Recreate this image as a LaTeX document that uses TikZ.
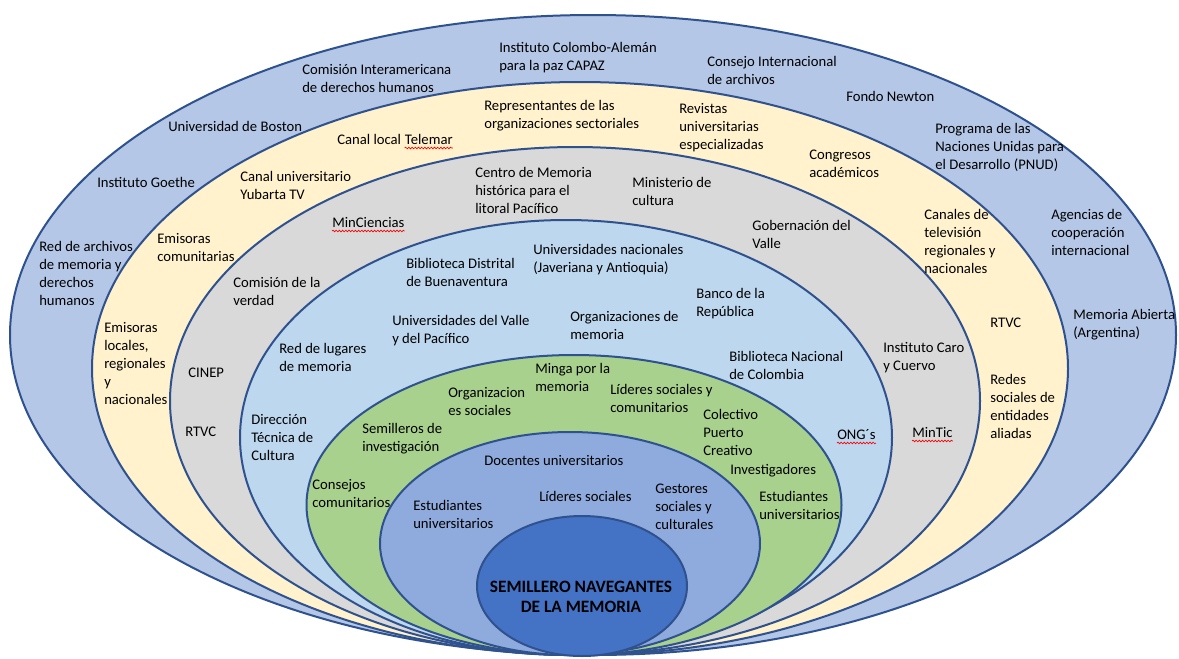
\documentclass[tikz,border=0pt]{standalone}
\usepackage{fontspec}
\setmainfont{Carlito}
\usetikzlibrary{decorations.pathmorphing}
\definecolor{outer-color}{HTML}{B4C7E7}
\definecolor{media-color}{HTML}{FFF2CC}
\definecolor{state-color}{HTML}{D9D9D9}
\definecolor{memory-color}{HTML}{BDD7EE}
\definecolor{community-color}{HTML}{A9D18E}
\definecolor{academic-color}{HTML}{8FAADC}
\definecolor{core-color}{HTML}{4472C4}
\definecolor{line-color}{HTML}{2F528F}

\begin{document}
\begin{tikzpicture}[x=0.75pt, y=-0.75pt,
ring/.style={fill=#1, draw=line-color, line width=1.5pt},
spell/.style={red, line width=0.5pt, decorate, decoration={snake, amplitude=0.6pt, segment length=2.4pt}}]

\useasboundingbox (0,0) rectangle (1179,658);

\draw[ring=outer-color]     (593,335)   ellipse [x radius=583,   y radius=320];
\draw[ring=media-color]     (580,368.5) ellipse [x radius=488,   y radius=286.5];
\draw[ring=state-color]     (575,401)   ellipse [x radius=405,   y radius=254];
\draw[ring=memory-color]    (566,437.5) ellipse [x radius=326,   y radius=217.5];
\draw[ring=community-color] (574,505)   ellipse [x radius=267.5, y radius=150];
\draw[ring=academic-color]  (570,543.5) ellipse [x radius=190,   y radius=111.5];
\draw[ring=core-color]      (582,586)   ellipse [x radius=105,   y radius=70];

% base = baseline of the last line
\begin{scope}[every node/.style={anchor=base west, inner sep=0pt, align=left, font=\fontsize{11}{13.5}\selectfont}]
% cooperacion internacional
\node(cidh)     at (302,92)  {Comisión Interamericana\\de derechos humanos};
\node(capaz)    at (499,70)  {Instituto Colombo-Alemán\\para la paz CAPAZ};
\node(cia)      at (707,84)  {Consejo Internacional\\de archivos};
\node(boston)   at (168,131) {Universidad de Boston};
\node(newton)   at (846,101) {Fondo Newton};
\node(goethe)   at (97,187)  {Instituto Goethe};
\node(pnud)     at (935,169) {Programa de las\\Naciones Unidas para\\el Desarrollo (PNUD)};
\node(redarch)  at (39,305)  {Red de archivos\\de memoria y\\derechos\\humanos};
\node(agencias) at (1051,255) {Agencias de\\cooperación\\internacional};
\node(abierta)  at (1073,337) {Memoria Abierta\\(Argentina)};

% medios
\node(canal)    at (337,144) {Canal local};
\node(telemar)  at ([xshift=2.5pt]canal.base east) {Telemar};
\node(repres)   at (484,128) {Representantes de las\\organizaciones sectoriales};
\node(revistas) at (679,149) {Revistas\\universitarias\\especializadas};
\node(congreso) at (809,177) {Congresos\\académicos};
\node(yubarta)  at (240,199) {Canal universitario\\Yubarta TV};
\node(emicom)   at (157,261) {Emisoras\\comunitarias};
\node(canales)  at (924,273) {Canales de\\televisión\\regionales y\\nacionales};
\node(emiloc)   at (104,404) {Emisoras\\locales,\\regionales\\y\\nacionales};
\node(rtvcb)    at (990,327) {RTVC};
\node(redes)    at (990,438) {Redes\\sociales de\\entidades\\aliadas};

% estado
\node(minciencias) at (332,227) {MinCiencias};
\node(centro)   at (475,213) {Centro de Memoria\\histórica para el\\litoral Pacífico};
\node(mincult)  at (632,205) {Ministerio de\\cultura};
\node(gober)    at (752,248) {Gobernación del\\Valle};
\node(verdad)   at (233,305) {Comisión de la\\verdad};
\node(cinep)    at (188,377) {CINEP};
\node(rtvca)    at (185,436) {RTVC};
\node(caro)     at (883,370) {Instituto Caro\\y Cuervo};
\node(mintic)   at (912,437) {MinTic};

% memoria
\node(bdist)    at (406,286) {Biblioteca Distrital\\de Buenaventura};
\node(unal)     at (533,272) {Universidades nacionales\\(Javeriana y Antioquia)};
\node(banco)    at (696,316) {Banco de la\\República};
\node(univalle) at (392,343) {Universidades del Valle\\y del Pacífico};
\node(orgmem)   at (570,339) {Organizaciones de\\memoria};
\node(lugares)  at (279,371) {Red de lugares\\de memoria};
\node(bnac)     at (729,379) {Biblioteca Nacional\\de Colombia};
\node(direc)    at (251,460) {Dirección\\Técnica de\\Cultura};
\node(ongs)     at (837,439) {ONG´s};

% comunidad
\node(minga)    at (535,391) {Minga por la\\memoria};
\node(orgsoc)   at (448,415) {Organizacion\\es sociales};
\node(lidcom)   at (610,412) {Líderes sociales y\\comunitarios};
\node(colect)   at (703,455) {Colectivo\\Puerto\\Creativo};
\node(semill)   at (362,451) {Semilleros de\\investigación};
\node(investig) at (730,474) {Investigadores};
\node(consejos) at (312,507) {Consejos\\comunitarios};
\node(estudb)   at (759,519) {Estudiantes\\universitarios};

% academia
\node(docentes) at (484,465) {Docentes universitarios};
\node(estuda)   at (413,528) {Estudiantes\\universitarios};
\node(lideres)  at (539,501) {Líderes sociales};
\node(gestores) at (655,529) {Gestores\\sociales y\\culturales};
\end{scope}

\node(core)[anchor=base, inner sep=0pt, align=center, font=\bfseries\fontsize{13}{15}\selectfont] at (581,612) {SEMILLERO NAVEGANTES\\DE LA MEMORIA};

\foreach \w in {telemar, minciencias, ongs, mintic}
  \draw[spell] ([yshift=-3pt]\w.base west) -- ([yshift=-3pt]\w.base east);

\end{tikzpicture}
\end{document}
